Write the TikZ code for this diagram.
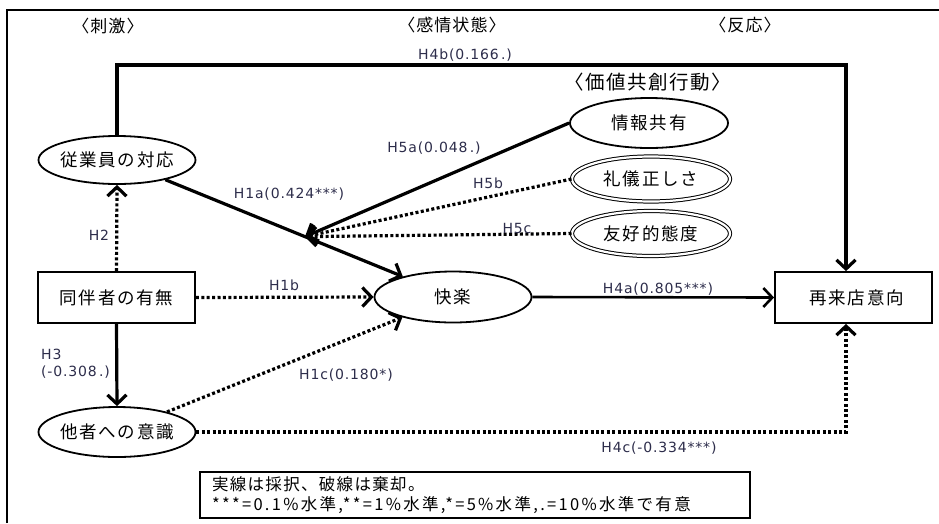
\documentclass[tikz,border=0pt]{standalone}
\usepackage{fontspec}
\setmainfont{DejaVu Sans}
\newfontfamily\jp[LetterSpace=10]{Noto Sans CJK JP}
\newfontfamily\jph[LetterSpace=6]{Noto Sans CJK JP}
\newfontfamily\jpl[LetterSpace=8]{Noto Sans CJK JP}
\newfontfamily\labfont[LetterSpace=6]{DejaVu Sans}
\usetikzlibrary{arrows.meta,shapes.geometric,calc}
\definecolor{labc}{RGB}{45,45,75}
\tikzset{
  ell/.style={draw, ellipse, line width=1.8pt, minimum width=157pt, minimum height=48pt, inner sep=0pt, font=\fontsize{17.5}{19}\jp},
  dell/.style={draw, ellipse, double, double distance=2.2pt, line width=1pt, minimum width=158pt, minimum height=45pt, inner sep=0pt, font=\fontsize{17.5}{19}\jp},
  nodebox/.style={draw, rectangle, line width=1.8pt, minimum width=157pt, minimum height=51pt, inner sep=0pt, font=\fontsize{17.5}{19}\jp},
  solarrow/.style={line width=3.2pt, -{Straight Barb[length=9pt,width=19pt]}},
  dotarrow/.style={line width=3.2pt, dash pattern=on 3pt off 2.4pt, -{Straight Barb[length=9pt,width=19pt]}},
  lbl/.style={font=\fontsize{14}{17}\labfont, text=labc, inner sep=0pt},
  hdr/.style={font=\fontsize{17}{19}\jph, inner sep=0pt}
}
\begin{document}
\begin{tikzpicture}[x=1pt,y=-1pt]
\useasboundingbox (0,0) rectangle (939,523);
\fill[white] (0,0) rectangle (939,523);
% frame
\draw[line width=1.8pt] (7,523) -- (7,10) -- (939,10);

% headers
\node[hdr] (hs) at (108,26) {〈刺激〉};
\node[hdr] (he) at (452,25) {〈感情状態〉};
\node[hdr] (hr) at (745,25) {〈反応〉};
\node[font=\fontsize{19.5}{21}\jpl, inner sep=0pt] (hv) at (648,82) {〈価値共創行動〉};

% nodes
\node[ell] (emp) at (117,160) {\makebox[0pt]{従業員の対応}};
\node[nodebox] (comp) at (116.5,297.5) {\makebox[0pt]{同伴者の有無}};
\node[ell, minimum height=50pt] (other) at (117,432) {\makebox[0pt]{他者への意識}};
\node[ell, minimum height=51pt] (pleas) at (453,297) {\makebox[0pt]{快楽}};
\node[ell, minimum width=158pt, minimum height=50pt] (info) at (649,123) {\makebox[0pt]{情報共有}};
\node[dell] (polite) at (651,179) {\makebox[0pt]{礼儀正しさ}};
\node[dell] (friend) at (651,233.5) {\makebox[0pt]{友好的態度}};
\node[nodebox] (rev) at (853.5,297.5) {\makebox[0pt]{\hspace{6pt}再来店意向}};

% legend
\node[draw, line width=1.6pt, minimum width=550pt, minimum height=46pt, inner xsep=12pt, inner ysep=0pt, text width=526pt, align=left, font=\fontsize{16.5}{20}\selectfont] (legend) at (475,495)
  {{\jpl 実線は採択、破線は棄却。}\\{\jpl\addfontfeatures{LetterSpace=14}***=0.1\%水準,**=1\%水準,*=5\%水準,.=10\%水準で有意}};

% coordinates
\coordinate (h5pt) at ($(emp)!0.5595!(pleas)$);
\coordinate (h4b) at (846,65);
\coordinate (h4c) at (846,432);

% connectors
\draw[solarrow] (emp.north) |- (h4b) -- (h4b |- rev.north);
\draw[solarrow] (emp) -- (pleas);
\draw[solarrow] (info.west) -- (h5pt);
\draw[dotarrow] (polite.west) -- (h5pt);
\draw[dotarrow] (friend.west) -- (h5pt);
\draw[dotarrow] (comp.north) -- (emp.south);
\draw[dotarrow] (comp.east) -- (pleas.west);
\draw[solarrow] (comp.south) -- (other.north);
\draw[dotarrow] (other) -- (pleas);
\draw[solarrow, line width=2.6pt] (pleas.east) -- (rev.west);
\draw[dotarrow] (other.east) -- (h4c) -- (h4c |- rev.south);

% labels
\node[lbl] (l4b) at (465,55) {H4b(0.166\,.)};
\node[lbl] (l1a) at (289,194) {H1a(0.424***)};
\node[lbl] (l5a) at (434,148) {H5a(0.048\,.)};
\node[lbl] (l5b) at (488,183) {H5b};
\node[lbl] (l5c) at (517,228) {H5c};
\node[lbl] (l2) at (99,235) {H2};
\node[lbl] (l1b) at (284,285) {H1b};
\node[lbl, anchor=west, align=left, font=\fontsize{14}{17}\labfont] (l3) at (41,364) {H3\\(-0.308\,.)};
\node[lbl] (l1c) at (346,375) {H1c(0.180*)};
\node[lbl] (l4a) at (658,289) {H4a(0.805***)};
\node[lbl] (l4c) at (659,448) {H4c(-0.334***)};
\end{tikzpicture}
\end{document}
